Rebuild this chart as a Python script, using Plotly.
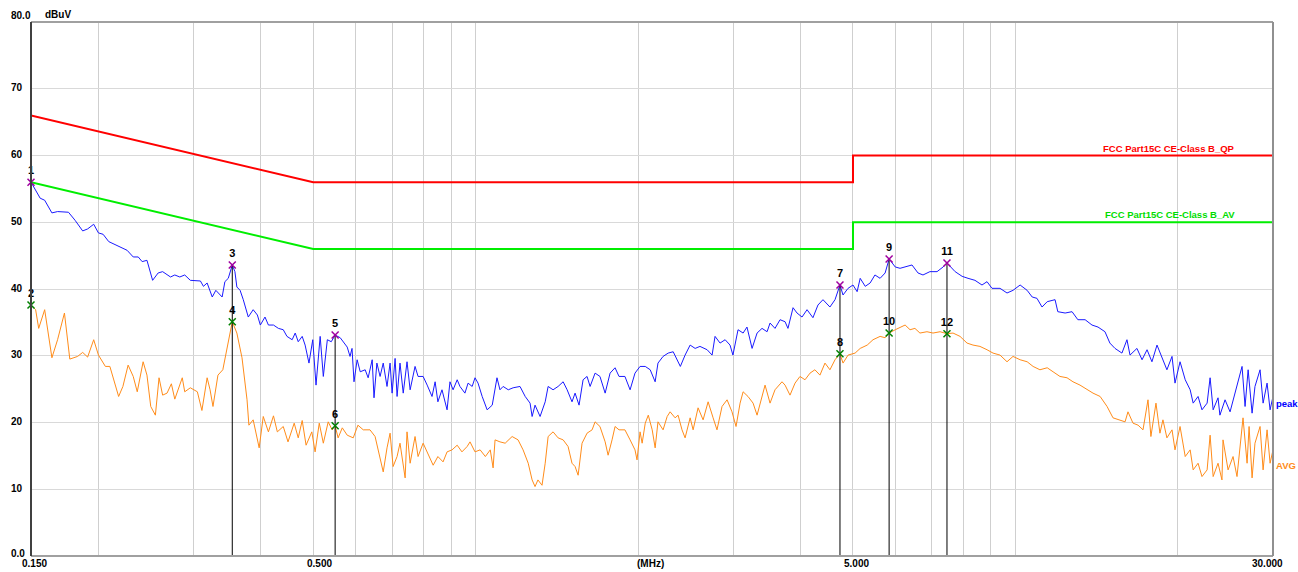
import math
import plotly.graph_objects as go

# ---------------- data ----------------
peak_freq = [
    0.150, 0.156, 0.159, 0.164, 0.168, 0.176, 0.181, 0.187, 0.191, 0.196,
    0.200, 0.204, 0.209, 0.215, 0.226, 0.232, 0.237, 0.241, 0.246, 0.252,
    0.258, 0.263, 0.272, 0.277, 0.283, 0.289, 0.296, 0.309, 0.313, 0.318,
    0.325, 0.330, 0.339, 0.343, 0.348, 0.354, 0.358, 0.361, 0.366, 0.371,
    0.374, 0.379, 0.387, 0.394, 0.399, 0.407, 0.413, 0.422, 0.431, 0.440,
    0.447, 0.457, 0.463, 0.469, 0.477, 0.483, 0.491, 0.499, 0.506, 0.515,
    0.522, 0.531, 0.540, 0.549, 0.561, 0.578, 0.585, 0.590, 0.595, 0.603,
    0.611, 0.624, 0.632, 0.643, 0.648, 0.656, 0.665, 0.674, 0.685, 0.694,
    0.700, 0.709, 0.715, 0.724, 0.734, 0.746, 0.756, 0.772, 0.782, 0.799,
    0.813, 0.830, 0.841, 0.851, 0.866, 0.885, 0.896, 0.908, 0.924, 0.935,
    0.955, 0.968, 0.985, 0.997, 1.010, 1.028, 1.050, 1.073, 1.095, 1.109,
    1.124, 1.149, 1.173, 1.208, 1.235, 1.261, 1.272, 1.288, 1.316, 1.345,
    1.362, 1.391, 1.421, 1.452, 1.477, 1.508, 1.528, 1.554, 1.581, 1.608,
    1.629, 1.664, 1.699, 1.737, 1.774, 1.812, 1.843, 1.890, 1.932, 1.973,
    2.016, 2.061, 2.105, 2.150, 2.176, 2.224, 2.273, 2.322, 2.394, 2.443,
    2.496, 2.550, 2.603, 2.684, 2.741, 2.776, 2.836, 2.898, 2.959, 2.996,
    3.062, 3.129, 3.181, 3.251, 3.321, 3.392, 3.466, 3.510, 3.585, 3.663,
    3.742, 3.789, 3.872, 3.938, 4.023, 4.110, 4.215, 4.306, 4.399, 4.532,
    4.631, 4.730, 4.792, 4.896, 5.000, 5.089, 5.156, 5.268, 5.379, 5.491,
    5.613, 5.735, 5.833, 5.988, 6.112, 6.245, 6.431, 6.598, 6.740, 6.942,
    7.157, 7.343, 7.466, 7.731, 7.963, 8.168, 8.413, 8.669, 8.857, 9.047,
    9.362, 9.646, 9.896, 10.20, 10.51, 10.74, 10.96, 11.20, 11.45, 11.84,
    11.98, 12.36, 12.73, 13.05, 13.46, 13.86, 14.22, 14.65, 14.96, 15.29,
    15.75, 16.09, 16.30, 16.79, 17.16, 17.53, 17.90, 18.29, 18.68, 19.08,
    19.50, 19.75, 20.18, 20.63, 21.07, 21.34, 21.79, 22.16, 22.65, 22.94,
    23.24, 23.73, 23.92, 24.45, 24.98, 25.30, 25.73, 26.29, 26.63, 26.98,
    27.44, 27.78, 28.39, 28.76, 29.25, 29.63, 30.00,
]
peak_level = [
    56.0, 53.6, 53.3, 51.4, 51.6, 51.5, 50.3, 48.7, 49.0, 49.7,
    48.4, 48.2, 47.1, 46.6, 45.8, 44.8, 44.8, 44.1, 44.3, 41.3,
    42.4, 42.6, 41.8, 42.1, 41.8, 42.1, 41.3, 41.2, 40.4, 40.9,
    38.8, 39.8, 38.8, 41.1, 41.6, 43.6, 42.6, 40.3, 39.8, 38.4,
    37.3, 35.8, 36.9, 36.1, 34.6, 35.8, 34.6, 34.6, 34.1, 33.9,
    32.9, 32.4, 33.4, 32.1, 32.9, 31.6, 28.9, 32.4, 25.6, 32.9,
    26.9, 32.4, 32.1, 33.1, 32.7, 31.3, 29.9, 31.1, 26.1, 29.4,
    27.6, 27.9, 26.7, 29.4, 23.7, 28.9, 26.9, 28.9, 25.4, 28.9,
    24.4, 29.6, 23.9, 28.9, 24.4, 29.1, 24.9, 28.4, 26.9, 26.9,
    25.6, 23.9, 26.1, 23.1, 24.9, 21.9, 26.1, 24.9, 26.4, 25.4,
    24.4, 25.9, 25.4, 26.7, 25.9, 23.9, 21.9, 22.6, 26.7, 24.9,
    25.4, 24.9, 25.2, 25.4, 23.9, 22.9, 20.9, 22.6, 20.9, 23.1,
    25.4, 24.9, 25.4, 26.1, 24.9, 23.1, 24.4, 22.6, 26.4, 26.9,
    25.4, 27.4, 26.9, 24.4, 27.4, 28.2, 26.9, 26.9, 24.9, 27.4,
    28.4, 28.4, 27.9, 26.1, 28.9, 29.9, 30.4, 30.6, 28.4, 30.1,
    31.6, 31.1, 31.4, 30.9, 30.1, 32.9, 31.9, 32.4, 31.6, 30.1,
    33.9, 33.4, 34.3, 31.1, 33.4, 34.1, 33.6, 34.9, 34.1, 35.4,
    35.1, 34.1, 37.2, 36.4, 35.8, 36.9, 35.7, 37.6, 38.4, 37.3,
    38.4, 40.6, 39.1, 40.1, 40.6, 39.6, 41.6, 40.4, 40.9, 42.1,
    41.6, 42.4, 44.5, 43.3, 43.1, 43.3, 43.6, 42.4, 42.1, 42.6,
    42.6, 43.3, 43.9, 42.6, 41.9, 41.6, 41.3, 40.6, 41.1, 40.1,
    40.1, 39.4, 39.8, 40.6, 39.8, 38.8, 38.6, 37.3, 38.1, 38.4,
    36.6, 36.4, 36.6, 35.4, 35.4, 34.6, 34.3, 33.6, 31.9, 31.1,
    30.4, 32.4, 30.1, 31.1, 29.4, 30.9, 29.1, 31.6, 29.6, 27.9,
    29.9, 25.9, 29.1, 26.4, 24.9, 22.9, 23.9, 21.9, 22.9, 26.7,
    21.9, 23.7, 21.1, 23.4, 21.6, 23.4, 25.4, 28.4, 22.4, 27.9,
    21.4, 25.4, 27.9, 22.9, 25.9, 21.9, 23.9,
]

avg_freq = [
    0.150, 0.153, 0.155, 0.159, 0.164, 0.168, 0.173, 0.177, 0.183, 0.187,
    0.191, 0.196, 0.200, 0.206, 0.210, 0.215, 0.218, 0.222, 0.227, 0.232,
    0.236, 0.242, 0.246, 0.250, 0.255, 0.259, 0.263, 0.268, 0.273, 0.277,
    0.286, 0.289, 0.296, 0.305, 0.311, 0.318, 0.322, 0.326, 0.333, 0.340,
    0.348, 0.354, 0.361, 0.369, 0.377, 0.380, 0.387, 0.397, 0.404, 0.413,
    0.422, 0.429, 0.440, 0.449, 0.461, 0.469, 0.477, 0.485, 0.497, 0.504,
    0.513, 0.522, 0.533, 0.542, 0.549, 0.556, 0.566, 0.578, 0.593, 0.605,
    0.619, 0.637, 0.651, 0.665, 0.674, 0.685, 0.694, 0.703, 0.715, 0.724,
    0.740, 0.746, 0.756, 0.772, 0.782, 0.799, 0.815, 0.834, 0.851, 0.870,
    0.885, 0.904, 0.924, 0.943, 0.964, 0.976, 0.997, 1.019, 1.042, 1.064,
    1.077, 1.086, 1.109, 1.134, 1.168, 1.198, 1.224, 1.251, 1.272, 1.288,
    1.304, 1.327, 1.345, 1.362, 1.391, 1.421, 1.452, 1.483, 1.508, 1.528,
    1.548, 1.574, 1.608, 1.643, 1.664, 1.699, 1.737, 1.759, 1.789, 1.812,
    1.843, 1.890, 1.932, 1.973, 1.990, 2.016, 2.034, 2.061, 2.088, 2.123,
    2.150, 2.176, 2.224, 2.263, 2.292, 2.341, 2.371, 2.411, 2.443, 2.496,
    2.528, 2.582, 2.638, 2.695, 2.753, 2.799, 2.860, 2.922, 2.984, 3.036,
    3.089, 3.129, 3.195, 3.265, 3.321, 3.392, 3.436, 3.510, 3.585, 3.694,
    3.742, 3.822, 3.905, 3.988, 4.075, 4.163, 4.250, 4.343, 4.437, 4.532,
    4.631, 4.730, 4.792, 4.896, 5.045, 5.156, 5.313, 5.446, 5.613, 5.735,
    5.833, 5.988, 6.112, 6.245, 6.378, 6.512, 6.653, 6.855, 7.034, 7.250,
    7.466, 7.662, 7.894, 8.133, 8.342, 8.594, 8.857, 9.087, 9.362, 9.646,
    9.896, 10.20, 10.51, 10.78, 11.10, 11.45, 11.74, 12.09, 12.46, 12.78,
    13.17, 13.57, 13.92, 14.35, 14.78, 15.16, 15.62, 15.96, 16.16, 16.51,
    16.87, 17.23, 17.60, 17.82, 18.21, 18.52, 18.76, 19.08, 19.50, 19.75,
    20.18, 20.63, 21.07, 21.34, 21.79, 22.16, 22.65, 22.94, 23.24, 23.73,
    24.13, 24.24, 24.77, 25.30, 25.73, 26.40, 26.86, 27.09, 27.44, 27.78,
    28.39, 28.76, 29.25, 29.63, 30.00,
]
avg_level = [
    37.6, 36.9, 34.1, 36.9, 29.7, 32.4, 36.4, 29.5, 29.9, 30.5,
    29.8, 32.4, 30.1, 28.4, 28.4, 25.4, 23.9, 25.4, 28.6, 26.9,
    24.6, 29.1, 27.1, 22.4, 21.1, 26.7, 24.1, 24.4, 25.8, 23.5,
    26.7, 24.6, 25.2, 24.6, 21.8, 26.7, 24.9, 22.4, 27.1, 27.9,
    32.4, 35.1, 33.4, 29.7, 23.4, 19.6, 20.4, 16.2, 20.9, 18.6,
    21.0, 18.6, 19.4, 17.1, 19.9, 17.7, 20.3, 16.6, 18.6, 15.6,
    19.9, 16.9, 20.1, 18.9, 19.5, 17.7, 19.2, 18.1, 17.7, 19.6,
    18.9, 18.9, 17.9, 14.4, 12.6, 16.2, 18.4, 13.4, 14.9, 16.9,
    11.7, 18.6, 13.9, 17.9, 14.9, 16.9, 15.4, 13.6, 14.9, 14.1,
    15.6, 15.9, 16.6, 15.6, 16.4, 17.1, 15.6, 15.9, 14.9, 15.9,
    13.2, 17.4, 17.1, 16.9, 17.9, 17.4, 15.9, 13.9, 11.4, 10.4,
    11.4, 10.6, 13.9, 17.9, 18.6, 17.7, 17.4, 16.4, 13.9, 13.4,
    12.1, 16.9, 18.4, 18.9, 20.1, 19.4, 17.1, 15.1, 17.4, 19.4,
    18.9, 18.9, 17.4, 15.9, 14.4, 18.6, 16.9, 19.9, 21.1, 18.9,
    16.2, 20.1, 18.9, 20.9, 21.6, 20.7, 21.1, 18.9, 17.7, 20.7,
    18.9, 22.2, 20.4, 23.1, 20.7, 18.9, 22.4, 23.4, 21.6, 19.4,
    22.9, 24.6, 23.9, 22.9, 21.1, 23.7, 25.6, 22.9, 24.9, 26.1,
    25.6, 24.1, 25.9, 26.9, 26.4, 27.4, 27.9, 27.1, 28.9, 27.9,
    29.4, 30.3, 28.9, 30.1, 30.4, 31.1, 31.6, 32.4, 32.9, 32.7,
    33.4, 33.9, 34.3, 34.6, 33.9, 34.1, 33.4, 33.6, 33.4, 33.6,
    33.3, 33.4, 32.9, 31.9, 31.6, 31.4, 30.9, 30.4, 30.1, 29.1,
    29.9, 29.4, 29.1, 28.4, 27.9, 28.2, 27.6, 26.9, 26.7, 26.1,
    25.6, 24.9, 24.4, 23.9, 22.4, 20.7, 20.4, 20.1, 21.6, 19.9,
    19.6, 18.9, 23.4, 17.9, 22.9, 18.4, 20.4, 17.7, 18.9, 15.9,
    19.4, 14.9, 15.9, 12.9, 13.9, 11.9, 12.9, 18.1, 11.9, 13.9,
    11.4, 17.4, 12.9, 14.9, 11.9, 20.7, 13.9, 19.4, 11.7, 16.9,
    19.4, 12.9, 18.9, 13.9, 15.9,
]

limit_freq = [0.15, 0.5, 5.0, 5.0, 30.0]
qp_limit = [66, 56, 56, 60, 60]
av_limit = [56, 46, 46, 50, 50]
qp_name = "FCC Part15C CE-Class B_QP"
av_name = "FCC Part15C CE-Class B_AV"

mk_freq = [0.150, 0.354, 0.549, 4.730, 5.833, 7.466]
mk_peak = [56.0, 43.6, 33.1, 40.6, 44.5, 43.9]
mk_avg = [37.6, 35.1, 19.5, 30.3, 33.4, 33.3]
mk_peak_lbl = ["1", "3", "5", "7", "9", "11"]
mk_avg_lbl = ["2", "4", "6", "8", "10", "12"]

y_tick_vals = [0, 10, 20, 30, 40, 50, 60, 70, 80]
y_tick_text = ["0.0", "10", "20", "30", "40", "50", "60", "70", "80.0"]
x_grid_vals = [0.2, 0.3, 0.4, 0.5, 0.6, 0.7, 0.8, 0.9, 1, 2, 3, 4, 5, 6, 7, 8, 9, 10, 20]
x_tick_vals = [0.15, 0.5, 5.0, 30.0]
x_tick_text = ["0.150", "0.500", "5.000", "30.000"]

FONT = "Liberation Sans, Arial, sans-serif"

# ---------------- figure ----------------
fig = go.Figure()

fig.add_trace(go.Scatter(x=limit_freq, y=qp_limit, mode="lines",
                         line=dict(color="#ff0000", width=2), hoverinfo="skip"))
fig.add_trace(go.Scatter(x=limit_freq, y=av_limit, mode="lines",
                         line=dict(color="#00ee00", width=2), hoverinfo="skip"))

fig.add_trace(go.Scatter(x=avg_freq, y=avg_level, mode="lines",
                         line=dict(color="#ff8c1a", width=1), hoverinfo="skip"))
fig.add_trace(go.Scatter(x=peak_freq, y=peak_level, mode="lines",
                         line=dict(color="#1a1aff", width=1), hoverinfo="skip"))

# vertical marker lines
vx, vy = [], []
for f, v in zip(mk_freq, mk_peak):
    vx += [f, f, None]
    vy += [0, v, None]
fig.add_trace(go.Scatter(x=vx, y=vy, mode="lines",
                         line=dict(color="#000000", width=1), hoverinfo="skip"))

fig.add_trace(go.Scatter(x=mk_freq, y=mk_peak, mode="markers+text", cliponaxis=False,
                         marker=dict(symbol="x-thin", size=7,
                                     line=dict(width=1.5, color="#a000a0")),
                         text=mk_peak_lbl, textposition="top center",
                         textfont=dict(family=FONT, size=11, color="#000000", weight="bold"),
                         hoverinfo="skip"))
fig.add_trace(go.Scatter(x=mk_freq, y=mk_avg, mode="markers+text", cliponaxis=False,
                         marker=dict(symbol="x-thin", size=7,
                                     line=dict(width=1.5, color="#008000")),
                         text=mk_avg_lbl, textposition="top center",
                         textfont=dict(family=FONT, size=11, color="#000000", weight="bold"),
                         hoverinfo="skip"))

annotations = []
# y tick labels (left aligned, like the original)
for v, t in zip(y_tick_vals, y_tick_text):
    shift = 1
    if v == 80:
        shift = 7
    elif v == 0:
        shift = 3
    annotations.append(dict(xref="paper", yref="y", x=-0.0177, y=v, text="<b>%s</b>" % t,
                            xanchor="left", yanchor="middle", yshift=shift, showarrow=False,
                            font=dict(family=FONT, size=10, color="#000000")))
# x tick labels
x_shifts = [3, 6, 4, -6]
for f, t, s in zip(x_tick_vals, x_tick_text, x_shifts):
    annotations.append(dict(xref="x", yref="paper", x=math.log10(f), y=0, text="<b>%s</b>" % t,
                            xanchor="center", yanchor="top", xshift=s, yshift=0, showarrow=False,
                            font=dict(family=FONT, size=10, color="#000000")))
annotations.append(dict(xref="paper", yref="paper", x=0.4984, y=0, text="<b>(MHz)</b>",
                        xanchor="center", yanchor="top", showarrow=False,
                        font=dict(family=FONT, size=10, color="#000000")))
annotations.append(dict(xref="paper", yref="paper", x=0.0217, y=1, text="<b>dBuV</b>",
                        xanchor="center", yanchor="bottom", showarrow=False,
                        font=dict(family=FONT, size=10, color="#000000")))
annotations.append(dict(xref="paper", yref="y", x=0.971, y=qp_limit[-1], text="<b>%s</b>" % qp_name,
                        xanchor="right", yanchor="bottom", showarrow=False,
                        font=dict(family=FONT, size=9.5, color="#ff0000")))
annotations.append(dict(xref="paper", yref="y", x=0.971, y=av_limit[-1], text="<b>%s</b>" % av_name,
                        xanchor="right", yanchor="bottom", showarrow=False,
                        font=dict(family=FONT, size=9.5, color="#00dd00")))
annotations.append(dict(xref="paper", yref="y", x=1.0, y=peak_level[-1] - 1.1, text="<b>peak</b>",
                        xanchor="left", yanchor="middle", showarrow=False, xshift=1,
                        font=dict(family=FONT, size=9.5, color="#0000ff")))
annotations.append(dict(xref="paper", yref="y", x=1.0, y=avg_level[-1] - 2.3, text="<b>AVG</b>",
                        xanchor="left", yanchor="middle", showarrow=False, xshift=1,
                        font=dict(family=FONT, size=9.5, color="#ff8c1a")))

shapes = [
    dict(type="line", xref="paper", yref="paper", x0=0, x1=1, y0=1, y1=1,
         line=dict(color="#a0a0a0", width=2)),
    dict(type="line", xref="paper", yref="paper", x0=0, x1=1, y0=0, y1=0,
         line=dict(color="#a0a0a0", width=2)),
    dict(type="line", xref="paper", yref="paper", x0=1, x1=1, y0=0, y1=1,
         line=dict(color="#909090", width=2)),
    dict(type="line", xref="paper", yref="paper", x0=0, x1=0, y0=0, y1=1,
         line=dict(color="#404040", width=2)),
]

fig.update_layout(
    width=1298, height=572,
    margin=dict(l=31, r=25, t=22, b=16),
    paper_bgcolor="#ffffff", plot_bgcolor="#ffffff",
    showlegend=False, hovermode=False,
    annotations=annotations, shapes=shapes,
    xaxis=dict(type="log", range=[math.log10(0.15), math.log10(30)],
               tickvals=x_grid_vals, showticklabels=False, ticks="",
               showgrid=True, gridcolor="#cfcfcf", gridwidth=1,
               zeroline=False, showline=False, fixedrange=True),
    yaxis=dict(range=[0, 80], tickvals=y_tick_vals[1:-1], showticklabels=False, ticks="",
               showgrid=True, gridcolor="#d9d9d9", gridwidth=1,
               zeroline=False, showline=False, fixedrange=True),
)

# remove the default 8px page margin so the figure fills the window exactly
fig.write_html("out.html",
               config={"displayModeBar": False, "staticPlot": True},
               post_script="document.body.style.margin='0px';document.body.style.overflow='hidden';")
